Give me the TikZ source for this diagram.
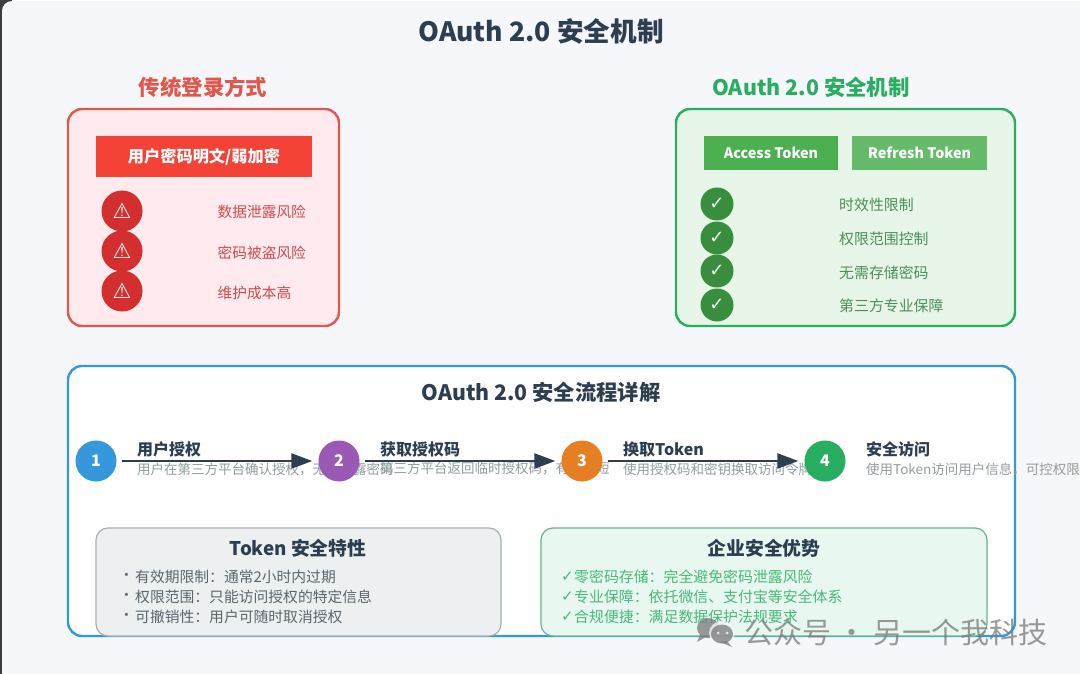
\documentclass[tikz,border=0pt]{standalone}
\usepackage{fontspec}
\setmainfont{Noto Sans CJK SC}
\newfontfamily\symfont{DejaVu Sans}
\usetikzlibrary{arrows.meta,calc}
\definecolor{pagebg}{HTML}{F5F7FB}
\definecolor{edgedark}{HTML}{3A3D42}
\definecolor{ink}{HTML}{2C3E50}
\definecolor{redmain}{HTML}{E2574C}
\definecolor{redhead}{HTML}{F44336}
\definecolor{redcirc}{HTML}{D32F2F}
\definecolor{redfill}{HTML}{FFEBEE}
\definecolor{redtext}{HTML}{CC4B50}
\definecolor{greenmain}{HTML}{27AE60}
\definecolor{greenfill}{HTML}{E8F5E9}
\definecolor{greencirc}{HTML}{388E3C}
\definecolor{greentext}{HTML}{4C8F58}
\definecolor{bluemain}{HTML}{3498DB}
\definecolor{greytext}{HTML}{7F8C8D}
\definecolor{listtext}{HTML}{5A666E}
\definecolor{accessgreen}{HTML}{4CAF50}
\definecolor{refreshgreen}{HTML}{66BB6A}
\definecolor{stepviolet}{HTML}{9B59B6}
\definecolor{steporange}{HTML}{E67E22}
\definecolor{cardgreyline}{HTML}{AAAEB0}
\definecolor{cardgreyfill}{HTML}{ECF0F1}
\definecolor{cardgreenline}{HTML}{6AB58A}
\definecolor{cardgreenfill}{HTML}{E8F8F0}
\tikzset{
  x=1pt,y=-1pt,
  titletext/.style={font=\bfseries\fontsize{26.6}{30}\selectfont,text=ink},
  headtext/.style={font=\bfseries\fontsize{21.4}{24}\selectfont},
  panelbox/.style={rounded corners=14pt,line width=2.4pt},
  btn/.style={anchor=north west,inner sep=0pt,outer sep=0pt,text=white,align=center},
  warncirc/.style={circle,fill=redcirc,minimum size=41pt,inner sep=0pt,text=white,font=\symfont\fontsize{21}{22}\selectfont},
  checkcirc/.style={circle,fill=greencirc,minimum size=33pt,inner sep=0pt,text=white,font=\symfont\fontsize{18}{20}\selectfont},
  warntext/.style={anchor=west,inner sep=0pt,text=redtext,font=\fontsize{14.7}{17}\selectfont},
  checktext/.style={anchor=west,inner sep=0pt,text=greentext,font=\fontsize{14.9}{17}\selectfont},
  stepcirc/.style={circle,minimum size=41pt,inner sep=0pt,text=white,font=\bfseries\fontsize{16}{18}\selectfont},
  steptitle/.style={anchor=west,inner sep=0pt,text=ink,font=\bfseries\fontsize{16}{18}\selectfont},
  stepdesc/.style={anchor=west,inner sep=0pt,text=greytext!85!white,font=\fontsize{13.5}{16}\selectfont},
  flowarrow/.style={draw=ink,line width=2.4pt,-{Triangle[length=21pt,width=15pt]},shorten >=6pt,shorten <=5pt},
  cardtitle/.style={inner sep=0pt,text=ink,font=\bfseries\fontsize{18.8}{21}\selectfont},
  listitem/.style={anchor=west,inner sep=0pt,text=listtext,font=\fontsize{14.8}{17}\selectfont},
  glistitem/.style={anchor=west,inner sep=0pt,text=greenmain!85!white,font=\fontsize{14.9}{17}\selectfont},
  gcheck/.style={anchor=west,inner sep=0pt,text=greenmain!85!white,font=\symfont\fontsize{15}{17}\selectfont},
  watermark/.style={anchor=west,inner sep=0pt,text=gray!95!black,opacity=.75,font=\fontsize{29}{32}\selectfont},
}
\begin{document}
\begin{tikzpicture}
\useasboundingbox (0,0) rectangle (1080,674);
% page
\fill[edgedark] (0,0) rectangle (12,12);
\fill[edgedark] (0,0) rectangle (2,674);
\fill[pagebg,rounded corners=10pt] (2,1) -- (1090,1) -- (1090,684) -- (2,684) -- cycle;
\node[titletext] (maintitle) at (541,31.5) {OAuth 2.0 安全机制};
% red panel
\node[headtext,text=redmain] (redtitle) at (203,87.5) {传统登录方式};
\draw[panelbox,draw=redmain,fill=redfill] (68,109) rectangle (339,326);
\node[btn,fill=redhead,minimum width=216pt,minimum height=41pt,font=\bfseries\fontsize{16.2}{18}\selectfont] (redbtn) at (96,136) {用户密码明文/弱加密};
\node[warncirc] (w1) at (122,211) {⚠};
\node[warncirc] (w2) at (122,251) {⚠};
\node[warncirc] (w3) at (122,291) {⚠};
\node[warntext] (wt1) at (217.5,212) {数据泄露风险};
\node[warntext] (wt2) at (217.5,252.5) {密码被盗风险};
\node[warntext] (wt3) at (217.5,292.5) {维护成本高};
% green panel
\node[headtext,text=greenmain] (greentitle) at (811,87.5) {OAuth 2.0 安全机制};
\draw[panelbox,draw=greenmain,fill=greenfill] (676,109) rectangle (1015,326);
\node[btn,fill=accessgreen,minimum width=134pt,minimum height=34pt,font=\bfseries\fontsize{14.4}{18}\selectfont] (access) at (704,136) {Access Token};
\node[btn,fill=refreshgreen,minimum width=135pt,minimum height=34pt,font=\bfseries\fontsize{14.4}{18}\selectfont] (refresh) at (852,136) {Refresh Token};
\node[checkcirc] (c1) at (717,204) {✓};
\node[checkcirc] (c2) at (717,238) {✓};
\node[checkcirc] (c3) at (717,271) {✓};
\node[checkcirc] (c4) at (717,305) {✓};
\node[checktext] (ct1) at (839,205) {时效性限制};
\node[checktext] (ct2) at (839,239) {权限范围控制};
\node[checktext] (ct3) at (839,273) {无需存储密码};
\node[checktext] (ct4) at (839,306) {第三方专业保障};
% flow panel
\draw[panelbox,draw=bluemain,fill=white] (68,366) rectangle (1015,636);
\node[inner sep=0pt,text=ink,font=\bfseries\fontsize{21.3}{24}\selectfont] (flowtitle) at (541,392) {OAuth 2.0 安全流程详解};
\node[steptitle] (s1t) at (137,449) {用户授权};
\node[steptitle] (s2t) at (380,449) {获取授权码};
\node[steptitle] (s3t) at (623,449) {换取Token};
\node[steptitle] (s4t) at (866,449) {安全访问};
\node[stepdesc] (s1d) at (137,469) {用户在第三方平台确认授权，无需泄露密码};
\node[stepdesc] (s2d) at (380,469) {第三方平台返回临时授权码，有效期短};
\node[stepdesc] (s3d) at (623,469) {使用授权码和密钥换取访问令牌};
\node[stepdesc] (s4d) at (866,469) {使用Token访问用户信息，可控权限};
\node[stepcirc,fill=bluemain] (s1) at (96,461) {1};
\node[stepcirc,fill=stepviolet] (s2) at (339,461) {2};
\node[stepcirc,fill=steporange] (s3) at (582,461) {3};
\node[stepcirc,fill=greenmain] (s4) at (825,461) {4};
\draw[flowarrow] (s1) -- (s2);
\draw[flowarrow] (s2) -- (s3);
\draw[flowarrow] (s3) -- (s4);
% cards
\draw[rounded corners=12pt,line width=1.2pt,draw=cardgreyline,fill=cardgreyfill] (96,528) rectangle (501,636);
\node[cardtitle] (tc) at (298,548) {Token 安全特性};
\node[listitem] (b1) at (119,577) {•};
\node[listitem] (b2) at (119,597) {•};
\node[listitem] (b3) at (119,617) {•};
\node[listitem] (l1) at (135,577) {有效期限制：通常2小时内过期};
\node[listitem] (l2) at (135,597) {权限范围：只能访问授权的特定信息};
\node[listitem] (l3) at (135,617) {可撤销性：用户可随时取消授权};
\draw[rounded corners=12pt,line width=1.2pt,draw=cardgreenline,fill=cardgreenfill] (541,528) rectangle (987,636);
\node[cardtitle] (ec) at (764,548) {企业安全优势};
\node[gcheck] (g1c) at (561,577) {✓};
\node[gcheck] (g2c) at (561,597) {✓};
\node[gcheck] (g3c) at (561,617) {✓};
\node[glistitem] (g1) at (574,577) {零密码存储：完全避免密码泄露风险};
\node[glistitem] (g2) at (574,597) {专业保障：依托微信、支付宝等安全体系};
\node[glistitem] (g3) at (574,617) {合规便捷：满足数据保护法规要求};
% watermark
\begin{scope}[opacity=.75]
\fill[gray!95!black] (708,628) ellipse [x radius=11pt,y radius=10pt];
\fill[gray!95!black] (700,635) -- (697,642) -- (706,637) -- cycle;
\fill[pagebg] (722,633) ellipse [x radius=13pt,y radius=12pt];
\fill[gray!95!black] (722,634) ellipse [x radius=11pt,y radius=9.5pt];
\fill[gray!95!black] (727,641) -- (732,647) -- (720,642) -- cycle;
\fill[white] (718,633) circle (1.5pt) (727,633) circle (1.5pt);
\end{scope}
\node[watermark] (wm) at (744,632) {公众号 · 另一个我科技};
\end{tikzpicture}
\end{document}
